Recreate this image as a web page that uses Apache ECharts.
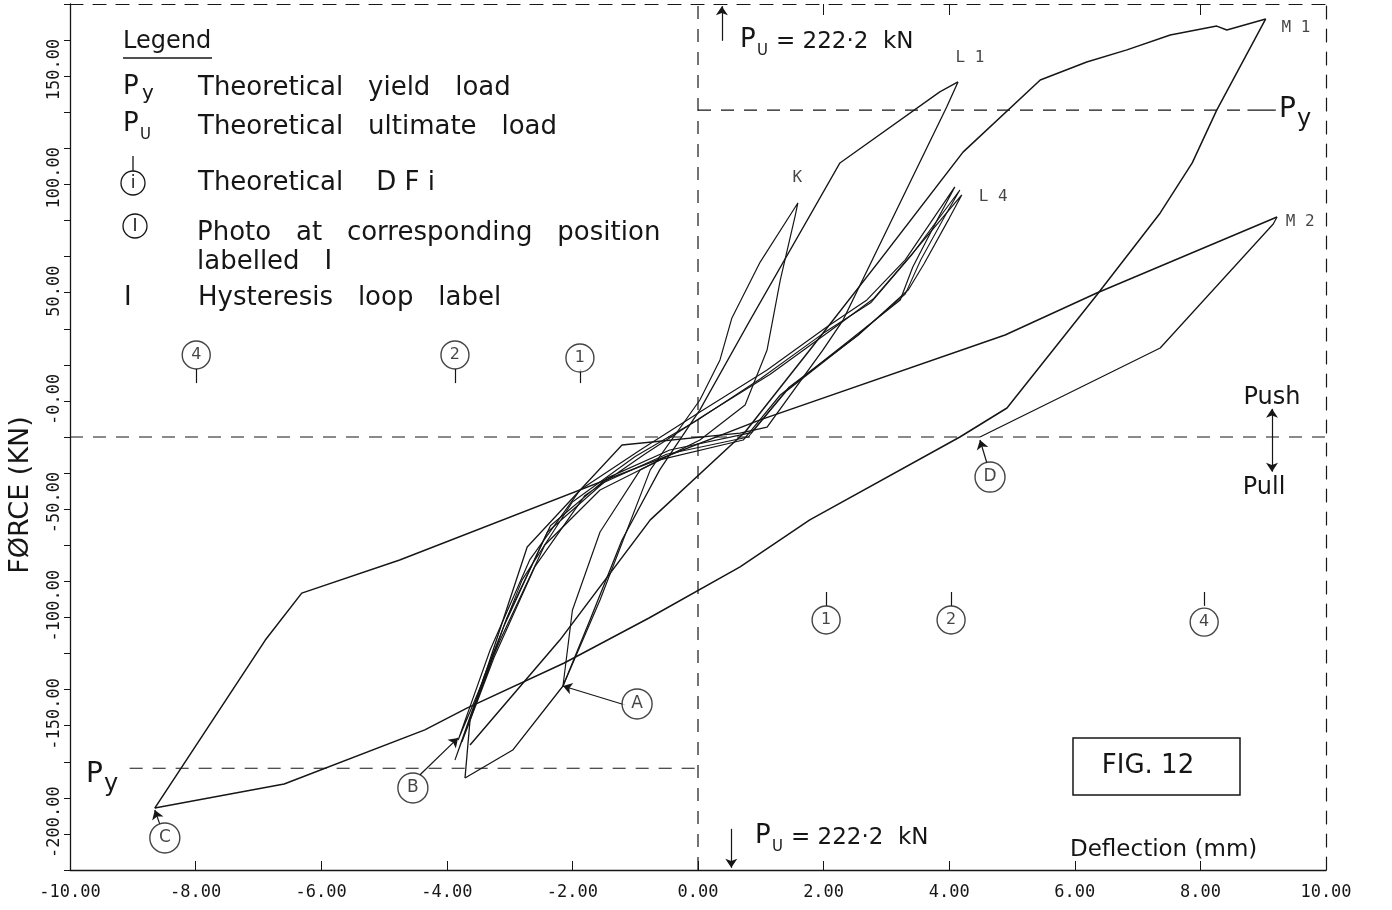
<!DOCTYPE html>
<html>
<head>
<meta charset="utf-8">
<script src="https://cdn.jsdelivr.net/npm/echarts@6/dist/echarts.min.js"></script>
<style>
html,body{margin:0;padding:0;background:#fff}
#chart{width:1392px;height:910px}
</style>
</head>
<body>
<div id="chart"></div>
<script>
// axis ticks
var xTicks = [-10, -8, -6, -4, -2, 0, 2, 4, 6, 8, 10];
var yTicks = [-200, -150, -100, -50, 0, 50, 100, 150, 200];
var topTicks = [2, 4, 8];

// reference levels (kN)
var pyTop = 151;
var pyBottom = -153;

// hysteresis branches [deflection mm, force kN]
var m1Load = [[-3.63,-142.3],[-2.20,-93.8],[-0.76,-38.3],[0.75,2.3],[1.78,40.2],[2.90,81.8],[4.22,131.6],[5.45,164.9],[6.19,173.2],[6.83,178.8],[7.52,185.7],[8.26,189.8],[8.42,188.0],[9.04,193.1]];
var m1Unload = [[9.04,193.1],[8.26,151.0],[7.87,126.6],[7.36,103.5],[6.35,65.6],[4.92,13.4],[4.17,0],[1.78,-38.3],[0.67,-60.0],[-0.78,-83.6],[-2.13,-104.4],[-3.68,-125.2],[-4.35,-135.3],[-6.59,-160.3],[-8.65,-171.4]];
var cToM2 = [[-8.65,-171.4],[-6.89,-93.8],[-6.31,-72.1],[-4.75,-56.8],[0.99,7.9],[4.89,47.1],[6.35,66.5],[9.22,101.6]];
var m2Unload = [[9.22,101.6],[9.16,98.4],[7.36,41.1],[4.49,0]];
var l1Load = [[-3.71,-157.5],[-2.95,-144.6],[-2.15,-115.0],[-1.72,-84.5],[-1.21,-47.6],[-0.61,-15.2],[0.03,12.5],[0.83,54.0],[1.74,100.2],[2.26,126.6],[3.85,159.4],[4.14,164.0]];
var l1Unload = [[4.14,164.0],[3.96,152.4],[2.31,54.0],[1.99,40.2],[1.10,4.6],[0.67,1.8],[-1.21,-3.7],[-2.72,-50.8],[-3.63,-130.7],[-3.71,-157.5]];
var kLoop = [[-2.15,-115.0],[-1.56,-75.3],[-0.76,-15.2],[0.03,17.1],[0.35,35.6],[0.54,55.0],[0.99,80.8],[1.59,108.1],[1.55,102.5],[1.31,72.5],[1.10,40.2],[0.75,14.8],[0.03,-1.4],[-0.92,-15.2],[-1.56,-43.9],[-2.00,-80.0],[-2.15,-115.0]];
var l2Loop = [[-3.82,-140.0],[-3.31,-98.4],[-2.68,-56.8],[-1.88,-24.5],[-0.92,-6.0],[0.03,11.5],[1.10,30.9],[2.05,50.8],[2.69,63.3],[3.30,81.8],[4.09,115.5],[3.85,102.5],[3.42,78.5],[3.22,63.3],[2.42,44.8],[1.31,19.4],[0.72,-1.4],[-0.61,-10.6],[-1.56,-24.5],[-2.44,-49.9],[-3.15,-93.8],[-3.82,-140.0]];
var l3Loop = [[-3.87,-149.2],[-3.40,-110],[-2.80,-66],[-2.00,-30],[-1.00,-9],[0.00,8],[1.00,27],[2.00,48],[2.75,62],[3.40,84],[4.17,114.1],[3.95,103],[3.55,82],[3.30,66],[2.50,46],[1.40,21],[0.80,0],[-0.50,-8],[-1.50,-21],[-2.40,-44],[-3.10,-88],[-3.87,-149.2]];
var l4Loop = [[-3.76,-140.9],[-3.25,-102],[-2.60,-60],[-1.80,-27],[-0.85,-8],[0.10,10],[1.15,29],[2.10,49],[2.80,64],[3.45,86],[4.20,111.8],[4.00,101],[3.60,80],[3.35,68],[2.55,47],[1.45,23],[0.85,2],[-0.45,-6],[-1.45,-19],[-2.35,-41],[-3.05,-84],[-3.76,-140.9]];

// theoretical DF markers [x, y, label]
var dfMarks = [[-7.99,37.9,'4'],[-3.87,37.9,'2'],[-1.88,36.5,'1'],[2.04,-84.5,'1'],[4.03,-84.5,'2'],[8.06,-85.5,'4']];
// photo markers [x, y, label] and arrow from circle to curve
var photoMarks = [[-0.97,-123.3,'A'],[-4.54,-162.1,'B'],[-8.49,-185.2,'C'],[4.65,-18.5,'D']];
var photoArrows = [
  [[-1.16,-123.8],[-2.15,-115.0],0.25],
  [[-4.43,-156.1],[-3.82,-139.0],-0.25],
  [[-8.57,-178.8],[-8.65,-172.3],0],
  [[4.60,-12.0],[4.49,-1.4],0]
];
// loop labels
var loopLabels = [[1.58,119.6,'K'],[4.33,175,'L 1'],[4.70,110.9,'L 4'],[9.52,189,'M 1'],[9.59,99.3,'M 2']];

var FONT = '"DejaVu Sans"';
var MONO = '"DejaVu Sans Mono"';
var INK = '#161616';

var dom = document.getElementById('chart');
var myChart = echarts.init(dom);

function curve(name, data, w) {
  return {
    name: name, type: 'line', data: data, symbol: 'none', silent: true,
    lineStyle: { color: INK, width: w || 1.3 }, z: 3
  };
}
function dashed(data) {
  return {
    type: 'line', data: data, symbol: 'none', silent: true,
    lineStyle: { color: INK, width: 1.2, type: [13, 10] }, z: 2
  };
}
function txt(x, y, s, size, extra) {
  var st = { text: s, font: size + 'px ' + FONT, fill: INK, textVerticalAlign: 'middle' };
  if (extra) st.textAlign = extra;
  return { type: 'text', x: x, y: y, style: st };
}

var markLines = [];
photoArrows.forEach(function (a) {
  markLines.push([{ coord: a[0], symbol: 'none', lineStyle: { curveness: a[2] } },
                  { coord: a[1], symbol: 'arrow' }]);
});
// P_U arrows and push / pull arrows
markLines.push([{ coord: [0.38, 183], symbol: 'none' }, { coord: [0.38, 199], symbol: 'arrow' }]);
markLines.push([{ coord: [0.53, -181], symbol: 'none' }, { coord: [0.53, -199], symbol: 'arrow' }]);
markLines.push([{ coord: [9.14, 0], symbol: 'none' }, { coord: [9.14, 13], symbol: 'arrow' }]);
markLines.push([{ coord: [9.14, 0], symbol: 'none' }, { coord: [9.14, -16], symbol: 'arrow' }]);
// stems of DF circles
dfMarks.forEach(function (d) {
  var up = d[1] > 0;
  markLines.push([{ coord: [d[0], up ? 31.4 : -78], symbol: 'none' },
                  { coord: [d[0], up ? 24.9 : -71.6], symbol: 'none' }]);
});

var option = {
  animation: false,
  backgroundColor: '#fff',
  grid: { left: 70, right: 66, top: 4, bottom: 40, containLabel: false, outerBoundsMode: 'none' },
  xAxis: [{
    type: 'value', min: -10, max: 10, interval: 2, position: 'bottom',
    axisLine: { onZero: false, lineStyle: { color: INK, width: 1.3 } },
    axisTick: { inside: true, length: 9, lineStyle: { color: INK } },
    splitLine: { show: false },
    axisLabel: {
      color: INK, fontFamily: MONO, fontSize: 17, margin: 14,
      formatter: function (v) { return v.toFixed(2); }
    }
  }, {
    type: 'value', min: -10, max: 10, interval: 2, position: 'top',
    axisLine: { onZero: false, lineStyle: { color: INK, width: 1.2, type: [13, 10] } },
    axisTick: { inside: true, length: 11, customValues: topTicks, lineStyle: { color: INK } },
    axisLabel: { show: false },
    splitLine: { show: false }
  }],
  yAxis: [{
    type: 'value', min: -200, max: 200, interval: 50, position: 'left',
    axisLine: { onZero: false, lineStyle: { color: INK, width: 1.3 } },
    axisTick: { length: 6, lineStyle: { color: INK } },
    minorTick: { show: true, splitNumber: 3, length: 6, lineStyle: { color: INK } },
    splitLine: { show: false },
    axisLabel: {
      rotate: 90, align: 'left', color: INK, fontFamily: MONO, fontSize: 17, margin: 7,
      padding: [0, 0, 0, 12],
      formatter: function (v) { return v === 0 ? '-0.00' : v.toFixed(2); }
    },
    name: 'F\u00d8RCE (KN)', nameLocation: 'middle', nameRotate: 90, nameGap: 36,
    nameTextStyle: { color: INK, fontFamily: FONT, fontSize: 27, padding: [0, 116, 0, 0] }
  }, {
    type: 'value', min: -200, max: 200, position: 'right',
    axisLine: { show: true, onZero: false, lineStyle: { color: INK, width: 1.2, type: [13, 10] } },
    axisTick: { show: false }, axisLabel: { show: false }, splitLine: { show: false }
  }],
  series: [
    dashed([[-10, 0], [10, 0]]),
    dashed([[0, -200], [0, 200]]),
    dashed([[0, pyTop], [8.75, pyTop]]),
    curve('py tail', [[8.75, pyTop], [9.2, pyTop]], 1.2),
    dashed([[-9.05, pyBottom], [0, pyBottom]]),
    curve('M1 load', m1Load, 1.5),
    curve('M1 unload', m1Unload, 1.5),
    curve('C to M2', cToM2, 1.5),
    curve('M2 unload', m2Unload, 1.3),
    curve('L1 load', l1Load, 1.3),
    curve('L1 unload', l1Unload, 1.3),
    curve('K', kLoop, 1.2),
    curve('L2', l2Loop, 1.2),
    curve('L3', l3Loop, 1.1),
    curve('L4', l4Loop, 1.2),
    {
      type: 'line', data: [], silent: true,
      markLine: {
        silent: true, animation: false, symbolSize: 9,
        label: { show: false },
        lineStyle: { color: INK, width: 1.2, type: 'solid' },
        data: markLines
      }
    },
    {
      type: 'scatter', silent: true, z: 5,
      data: dfMarks.map(function (d) { return { value: [d[0], d[1]], name: d[2] }; }),
      symbol: 'circle', symbolSize: 28,
      itemStyle: { color: '#fff', borderColor: INK, borderWidth: 1.4 },
      label: { show: true, position: 'inside', formatter: '{b}', color: INK, fontFamily: FONT, fontSize: 16 }
    },
    {
      type: 'scatter', silent: true, z: 5,
      data: photoMarks.map(function (d) { return { value: [d[0], d[1]], name: d[2] }; }),
      symbol: 'circle', symbolSize: 30,
      itemStyle: { color: '#fff', borderColor: INK, borderWidth: 1.4 },
      label: { show: true, position: 'inside', formatter: '{b}', color: INK, fontFamily: FONT, fontSize: 17 }
    },
    {
      type: 'scatter', silent: true, z: 5,
      data: loopLabels.map(function (d) { return { value: [d[0], d[1]], name: d[2] }; }),
      symbolSize: 0,
      label: { show: true, position: 'inside', formatter: '{b}', color: INK, fontFamily: MONO, fontSize: 16 }
    }
  ],
  graphic: { elements: [
    txt(123, 42, 'Legend', 24),
    { type: 'line', shape: { x1: 123, y1: 58, x2: 212, y2: 58 }, style: { stroke: INK, lineWidth: 1.3 } },
    txt(123, 87, 'P', 26), txt(142, 94, 'y', 20),
    txt(198, 88, 'Theoretical   yield   load', 26),
    txt(123, 124, 'P', 26), txt(140, 135, 'U', 15),
    txt(198, 127, 'Theoretical   ultimate   load', 26),
    { type: 'line', shape: { x1: 133, y1: 156, x2: 133, y2: 171 }, style: { stroke: INK, lineWidth: 1.3 } },
    { type: 'circle', shape: { cx: 133, cy: 183, r: 12 }, style: { fill: '#fff', stroke: INK, lineWidth: 1.3 } },
    txt(133, 184, 'i', 17, 'center'),
    txt(198, 183, 'Theoretical    D F i', 26),
    { type: 'circle', shape: { cx: 135, cy: 226, r: 12 }, style: { fill: '#fff', stroke: INK, lineWidth: 1.3 } },
    txt(135, 227, 'I', 17, 'center'),
    txt(197, 233, 'Photo   at   corresponding   position', 26),
    txt(197, 262, 'labelled   I', 26),
    txt(124, 298, 'I', 26),
    txt(198, 298, 'Hysteresis   loop   label', 26),

    txt(740, 40, 'P', 26), txt(757, 51, 'U', 15), txt(776, 42, '= 222\u00b72  kN', 23),
    txt(755, 836, 'P', 26), txt(772, 847, 'U', 15), txt(791, 838, '= 222\u00b72  kN', 23),

    txt(1279, 110, 'P', 28), txt(1297, 120, 'y', 24),
    txt(86, 775, 'P', 28), txt(104, 785, 'y', 24),

    txt(1272, 398, 'Push', 24, 'center'),
    txt(1264, 488, 'Pull', 24, 'center'),

    txt(1070, 850, 'Deflection (mm)', 23),

    { type: 'rect', shape: { x: 1073, y: 738, width: 167, height: 57 }, style: { fill: '#fff', stroke: INK, lineWidth: 1.5 } },
    txt(1148, 766, 'FIG. 12', 26, 'center')
  ] }
};

if (option && typeof option === 'object') {
  myChart.setOption(option, true);
}
window.addEventListener('resize', function () { myChart.resize(); });
</script>
</body>
</html>
